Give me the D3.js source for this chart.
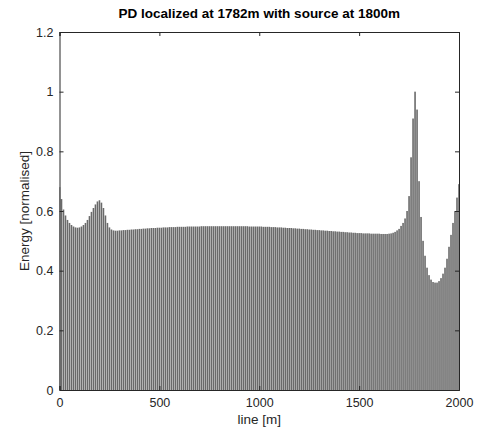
<!DOCTYPE html>
<html><head><meta charset="utf-8">
<script src="https://cdn.jsdelivr.net/npm/d3@7"></script>
<style>body{margin:0;background:#fff}svg{display:block}text{font-family:"Liberation Sans",Arial,sans-serif}</style>
</head><body>
<script>
const positions = d3.range(0, 2001, 10);
const energy = [
0.68,0.64,0.605,0.585,0.57,0.56,0.553,0.548,0.545,0.544,
0.545,0.548,0.553,0.56,0.57,0.583,0.597,0.61,0.622,0.632,
0.636,0.628,0.61,0.585,0.56,0.545,0.538,0.535,0.534,0.534,
0.535,0.535,0.536,0.536,0.537,0.537,0.538,0.538,0.539,0.539,
0.540,0.540,0.541,0.541,0.542,0.542,0.543,0.543,0.543,0.544,
0.544,0.544,0.545,0.545,0.545,0.546,0.546,0.546,0.546,0.547,
0.547,0.547,0.547,0.547,0.548,0.548,0.548,0.548,0.548,0.548,
0.548,0.549,0.549,0.549,0.549,0.549,0.549,0.549,0.549,0.549,
0.549,0.549,0.549,0.549,0.549,0.549,0.549,0.549,0.549,0.549,
0.549,0.549,0.549,0.549,0.549,0.548,0.548,0.548,0.548,0.548,
0.548,0.548,0.547,0.547,0.547,0.547,0.546,0.546,0.546,0.545,
0.545,0.545,0.544,0.544,0.543,0.543,0.543,0.542,0.542,0.541,
0.541,0.540,0.540,0.539,0.539,0.538,0.538,0.537,0.537,0.536,
0.536,0.535,0.535,0.534,0.534,0.533,0.533,0.532,0.532,0.531,
0.531,0.530,0.530,0.529,0.529,0.528,0.528,0.527,0.527,0.526,
0.526,0.526,0.525,0.525,0.525,0.525,0.524,0.524,0.524,0.524,
0.524,0.523,0.523,0.523,0.523,0.524,0.525,0.527,0.530,0.535,
0.540,0.550,0.560,0.575,0.600,0.650,0.780,0.910,1.000,0.940,
0.700,0.580,0.500,0.450,0.410,0.385,0.370,0.362,0.360,0.360,
0.365,0.375,0.390,0.410,0.440,0.480,0.520,0.560,0.600,0.645,
0.690
];
const xTicks = [0, 500, 1000, 1500, 2000];
const yTicks = [0, 0.2, 0.4, 0.6, 0.8, 1, 1.2];
const titleText = "PD localized at 1782m with source at 1800m";
const xLabel = "line [m]";
const yLabel = "Energy [normalised]";

const W = 485, H = 427;
const m = {l: 59.5, r: 26, t: 32, b: 37};
const svg = d3.select("body").append("svg").attr("width", W).attr("height", H);
const x = d3.scaleLinear().domain([0, 2000]).range([m.l, W - m.r]);
const y = d3.scaleLinear().domain([0, 1.2]).range([H - m.b, m.t]);
const iw = W - m.r - m.l, ih = H - m.b - m.t;

svg.append("clipPath").attr("id", "c").append("rect")
  .attr("x", m.l).attr("y", m.t).attr("width", iw).attr("height", ih);

const bw = (x(10) - x(0)) * 0.8;
svg.append("g").attr("clip-path", "url(#c)").selectAll("rect")
  .data(positions.map((p, i) => [p, energy[i]]))
  .join("rect")
  .attr("x", d => x(d[0]) - bw / 2)
  .attr("width", bw)
  .attr("y", d => y(d[1]))
  .attr("height", d => y(0) - y(d[1]))
  .attr("fill", "#6a6a6a");

const axCol = "#262626";
const fs = "12.5px";
const gx = svg.append("g").attr("transform", `translate(0,${H - m.b})`)
  .call(d3.axisBottom(x).tickValues(xTicks).tickSize(-4).tickPadding(8).tickFormat(d3.format("d")));
const gxt = svg.append("g").attr("transform", `translate(0,${m.t})`)
  .call(d3.axisTop(x).tickValues(xTicks).tickSize(-4).tickFormat(""));
const gy = svg.append("g").attr("transform", `translate(${m.l},0)`)
  .call(d3.axisLeft(y).tickValues(yTicks).tickSize(-4).tickPadding(6).tickFormat(d => d3.format("")(+d.toFixed(1))));
const gyr = svg.append("g").attr("transform", `translate(${W - m.r},0)`)
  .call(d3.axisRight(y).tickValues(yTicks).tickSize(-4).tickFormat(""));
[gx, gxt, gy, gyr].forEach(g => {
  g.selectAll("path").attr("stroke", axCol).attr("stroke-width", 1);
  g.selectAll("line").attr("stroke", axCol);
  g.selectAll("text").attr("fill", axCol).style("font-size", fs).style("font-family", '"Liberation Sans",Arial,sans-serif');
});

svg.append("text").attr("x", (m.l + W - m.r) / 2).attr("y", 18)
  .attr("text-anchor", "middle").style("font-size", "13.5px").style("font-weight", "bold")
  .attr("fill", "#000").text(titleText);
svg.append("text").attr("x", (m.l + W - m.r) / 2).attr("y", H - 3)
  .attr("text-anchor", "middle").style("font-size", "13.5px").attr("fill", axCol).text(xLabel);
svg.append("text").attr("transform", `translate(29,${(m.t + H - m.b) / 2}) rotate(-90)`)
  .attr("text-anchor", "middle").style("font-size", "13.5px").attr("fill", axCol).text(yLabel);
</script>
</body></html>
